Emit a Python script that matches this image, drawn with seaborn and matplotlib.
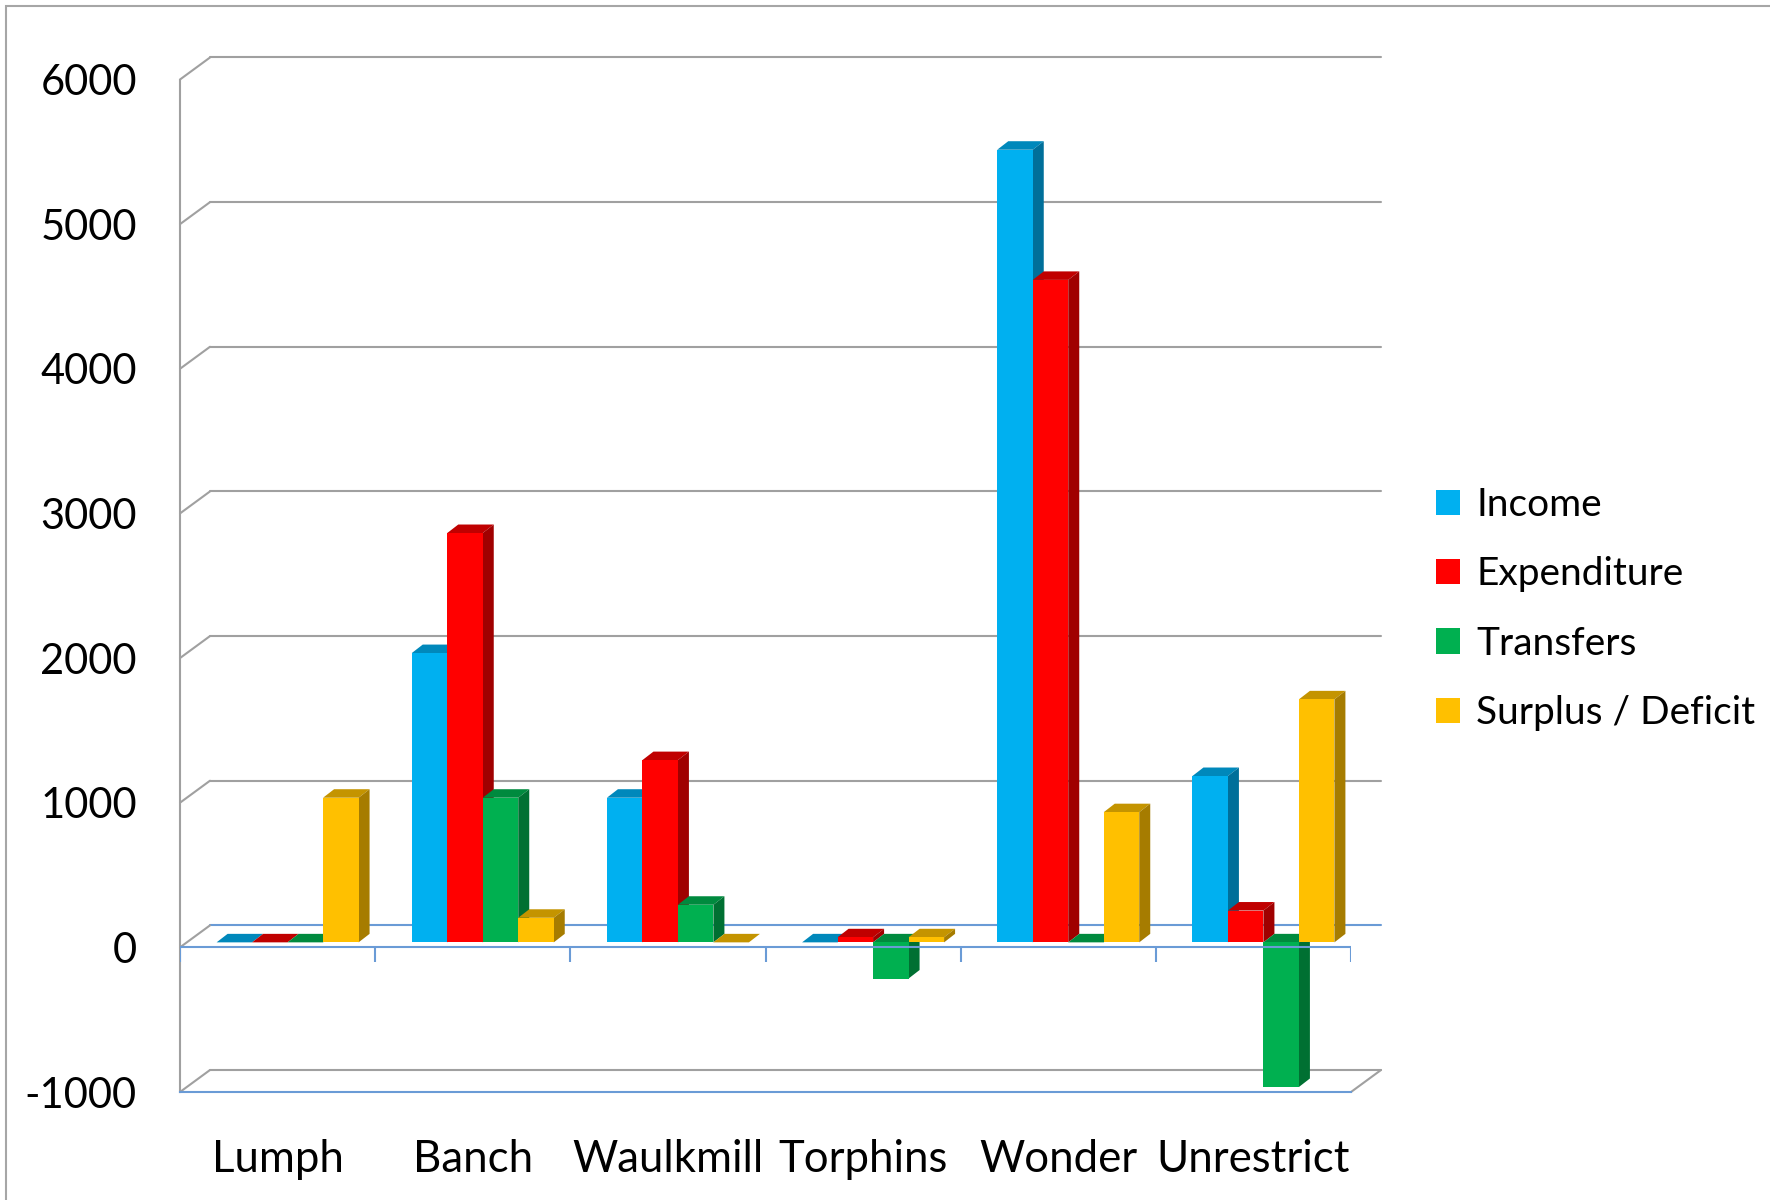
import numpy as np
import pandas as pd
import matplotlib
matplotlib.use("Agg")
import matplotlib.pyplot as plt
from matplotlib.patches import Polygon, Rectangle
import seaborn as sns

# ---- data ----
funds = ["Lumph", "Banch", "Waulkmill", "Torphins", "Wonder", "Unrestrict"]
series = ["Income", "Expenditure", "Transfers", "Surplus / Deficit"]
income = [0, 2000, 1000, 0, 5480, 1150]
expenditure = [0, 2830, 1260, 35, 4580, 220]
transfers = [0, 1000, 260, -250, 0, -1000]
surplus = [1000, 170, 0, 35, 900, 1680]
y_ticks = [-1000, 0, 1000, 2000, 3000, 4000, 5000, 6000]

# face colours for the fake 3d look
front_cols = ["#00B0F0", "#FF0000", "#00B050", "#FFC000"]
top_cols = ["#0088BB", "#C00000", "#008A3E", "#C49400"]
side_cols = ["#006F9A", "#A00000", "#007032", "#A67C00"]
grid_col = "#A0A0A0"
axis_blue = "#6A9BD6"

df = pd.DataFrame({"fund": funds, "Income": income, "Expenditure": expenditure,
                   "Transfers": transfers, "Surplus / Deficit": surplus})
df = df.melt(id_vars="fund", var_name="series", value_name="value")

sns.set_style("white")
plt.rcParams["font.family"] = ["Lato", "DejaVu Sans"]
plt.rcParams["text.color"] = "black"
plt.rcParams["xtick.labelcolor"] = "black"
plt.rcParams["ytick.labelcolor"] = "black"

W, H = 1770, 1200
fig = plt.figure(figsize=(W / 100, H / 100), dpi=100)

# front plane of the plot box, in pixels
left_px, right_px, top_px, bot_px = 180, 1351, 79.5, 1092
ax = fig.add_axes([left_px / W, 1 - bot_px / H, (right_px - left_px) / W, (bot_px - top_px) / H])

ux = 6 / (right_px - left_px)        # data units per pixel, x
uy = 7000 / (bot_px - top_px)        # data units per pixel, y

sns.barplot(data=df, x="fund", y="value", hue="series", order=funds, hue_order=series,
            palette=front_cols, saturation=1, width=0.7275, gap=0, errorbar=None,
            linewidth=0, legend=False, ax=ax)
ax.set_xlim(-0.5, 5.5)
ax.set_ylim(-1000, 6000)

# shift bars back a little into the box and add top/side faces
fx, fy = 10 * ux, 5 * uy
ddx, ddy = 11 * ux, 8.5 * uy
for i, cont in enumerate(ax.containers):
    for bar in cont:
        x0 = bar.get_x() + fx
        w = bar.get_width()
        h = bar.get_height()
        y0 = bar.get_y() + fy
        bar.set_x(x0)
        bar.set_y(y0)
        bar.set_zorder(3 + i * 0.1 + 0.05)
        top = y0 + max(h, 0)
        bottom = y0 + min(h, 0)
        top_face = Polygon([(x0, top), (x0 + w, top), (x0 + w + ddx, top + ddy), (x0 + ddx, top + ddy)],
                           closed=True, facecolor=top_cols[i], edgecolor="none", zorder=3 + i * 0.1 + 0.01)
        side_face = Polygon([(x0 + w, bottom), (x0 + w + ddx, bottom + ddy), (x0 + w + ddx, top + ddy), (x0 + w, top)],
                            closed=True, facecolor=side_cols[i], edgecolor="none", zorder=3 + i * 0.1 + 0.01)
        ax.add_patch(top_face)
        ax.add_patch(side_face)

# back wall gridlines + side wall diagonals
wx, wy = 30 * ux, 22 * uy
for v in y_ticks:
    col = axis_blue if v == 0 else grid_col
    ax.plot([-0.5 + wx, 5.5 + wx], [v + wy, v + wy], color=col, lw=1.5, clip_on=False, zorder=1)
    ax.plot([-0.5, -0.5 + wx], [v, v + wy], color=grid_col, lw=1.5, clip_on=False, zorder=1)
ax.plot([5.5, 5.5 + wx], [-1000, -1000 + wy], color=grid_col, lw=1.5, clip_on=False, zorder=1)

# category axis at zero with boundary ticks
ax.axhline(0, color=axis_blue, lw=1.5, zorder=6)
ax.vlines(np.arange(-0.5, 6, 1), -15 * uy, 0, color=axis_blue, lw=1.5, zorder=6)

for s in ["top", "right"]:
    ax.spines[s].set_visible(False)
ax.spines["left"].set_color(grid_col)
ax.spines["left"].set_linewidth(1.5)
ax.spines["bottom"].set_color(axis_blue)
ax.spines["bottom"].set_linewidth(1.5)

ax.set_yticks(y_ticks)
ax.set_yticklabels([str(v) for v in y_ticks])
ax.tick_params(axis="y", length=9.4, width=1.5, color=grid_col, pad=21.6, labelsize=30)
ax.tick_params(axis="x", length=0, pad=34, labelsize=31.5)
ax.set_xlabel("")
ax.set_ylabel("")

ax.legend(handles=ax.containers, labels=series, loc="center left",
          bbox_to_anchor=(1436 / W, 1 - 609 / H), bbox_transform=fig.transFigure,
          frameon=False, fontsize=28, handlelength=0.62, handleheight=0.62,
          handletextpad=0.41, labelspacing=0.86, borderpad=0, borderaxespad=0)

# outer chart border (only top and left visible)
fig.add_artist(Rectangle((6 / W, -0.1), 1.2, 1.1 - 6 / H, transform=fig.transFigure,
                         fill=False, edgecolor="#A6A6A6", lw=1.5))

fig.savefig("out.png", dpi=100, facecolor="white")
